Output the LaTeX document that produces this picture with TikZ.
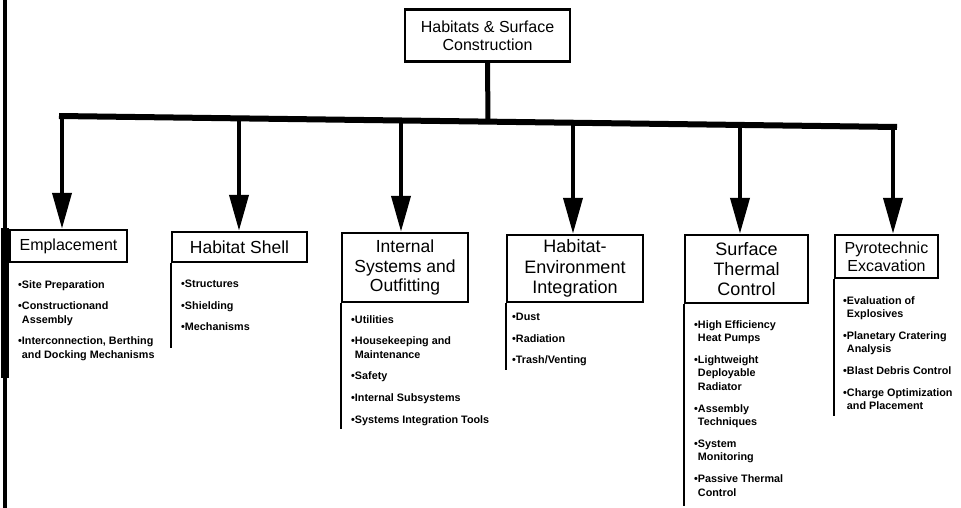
\documentclass[tikz,border=0pt]{standalone}
\usepackage{fontspec}
\setmainfont{Liberation Sans}
\usetikzlibrary{arrows.meta}
\newcommand{\hang}{\phantom{•}}
\newcommand{\tsize}[1]{\fontsize{#1}{1.12\dimexpr#1pt\relax}\selectfont}
\begin{document}
\begin{tikzpicture}[x=1pt,y=-1pt,
  box/.style={draw,line width=2.5pt,inner sep=0pt,align=center,
    font=\tsize{16}},
  bar/.style={line width=6pt},
  feed/.style={line width=5pt},
  drop/.style={line width=4pt,-{Triangle[length=36pt,width=19pt]}},
  rule/.style={line width=2pt},
  items/.style={anchor=north west,inner sep=0pt,align=left,
    font=\bfseries\fontsize{10.8}{13.6}\selectfont}]
\fill[white] (0,0) rectangle (961,508);
\useasboundingbox (0,0) rectangle (961,508);

% page edge
\draw[line width=4pt] (4.5,0) -- (4.5,508);
\fill (0.5,228) rectangle (9,378);

% root
\node[box,minimum width=165pt,minimum height=52pt] (root) at (487.5,35.5)
  {Habitats \& Surface\\Construction};

% branches
\node[box,minimum width=117pt,minimum height=32pt] (emp) at (68.5,246) {Emplacement};
\node[box,minimum width=135pt,minimum height=30pt,font=\tsize{17.5}] (shell) at (239.5,247) {Habitat Shell};
\node[box,minimum width=126pt,minimum height=69pt,font=\tsize{17.5}] (ints) at (405,267.5) {Internal\\Systems and\\Outfitting};
\node[box,minimum width=136pt,minimum height=67pt,font=\tsize{18}] (henv) at (575,268.5) {Habitat-\\Environment\\Integration};
\node[box,minimum width=123pt,minimum height=68pt,font=\tsize{18}] (stc) at (746.5,269) {Surface\\Thermal\\Control};
\node[box,minimum width=103pt,minimum height=43pt] (pyro) at (886.5,256.5) {Pyrotechnic\\Excavation};

% distribution bar
\coordinate (j0) at (488,121.6);
\coordinate (bL) at (59,116);
\coordinate (bR) at (897,127);
\coordinate (b1) at (62,116);
\coordinate (b2) at (239,118.3);
\coordinate (b3) at (401,120.5);
\coordinate (b4) at (573,122.7);
\coordinate (b5) at (740,125);
\coordinate (b6) at (893,127);

\draw[feed] (root.south) -- (j0);
\draw[bar] (bL) -- (bR);
\draw[drop] (b1) -- (b1 |- emp.north);
\draw[drop] (b2) -- (b2 |- shell.north);
\draw[drop] (b3) -- (b3 |- ints.north);
\draw[drop] (b4) -- (b4 |- henv.north);
\draw[drop] (b5) -- (b5 |- stc.north);
\draw[drop] (b6) -- (b6 |- pyro.north);

% side rules beside the lists
\draw[rule] (shell.south west) -- ++(0,85);
\draw[rule] (ints.south west) -- ++(0,126);
\draw[rule] (henv.south west) -- ++(0,67);
\draw[rule] (stc.south west) -- ++(0,202);
\draw[rule] (pyro.south west) -- ++(0,137);

% lists
\node[items] (empl) at (18,280) {•Site Preparation\\[8pt]
  •Constructionand\\\hang Assembly\\[8pt]
  •Interconnection, Berthing\\\hang and Docking Mechanisms};
\node[items] (shelll) at (181,280) {•Structures\\[8pt]•Shielding\\[8pt]•Mechanisms};
\node[items] (intsl) at (351,315) {•Utilities\\[8pt]
  •Housekeeping and\\\hang Maintenance\\[8pt]
  •Safety\\[8pt]
  •Internal Subsystems\\[8pt]
  •Systems Integration Tools};
\node[items] (henvl) at (512,313) {•Dust\\[8pt]•Radiation\\[8pt]•Trash/Venting};
\node[items] (stcl) at (694,320) {•High Efficiency\\\hang Heat Pumps\\[8pt]
  •Lightweight\\\hang Deployable\\\hang Radiator\\[8pt]
  •Assembly\\\hang Techniques\\[8pt]
  •System\\\hang Monitoring\\[8pt]
  •Passive Thermal\\\hang Control};
\node[items] (pyrol) at (843,296) {•Evaluation of\\\hang Explosives\\[8pt]
  •Planetary Cratering\\\hang Analysis\\[8pt]
  •Blast Debris Control\\[8pt]
  •Charge Optimization\\\hang and Placement};
\end{tikzpicture}
\end{document}
